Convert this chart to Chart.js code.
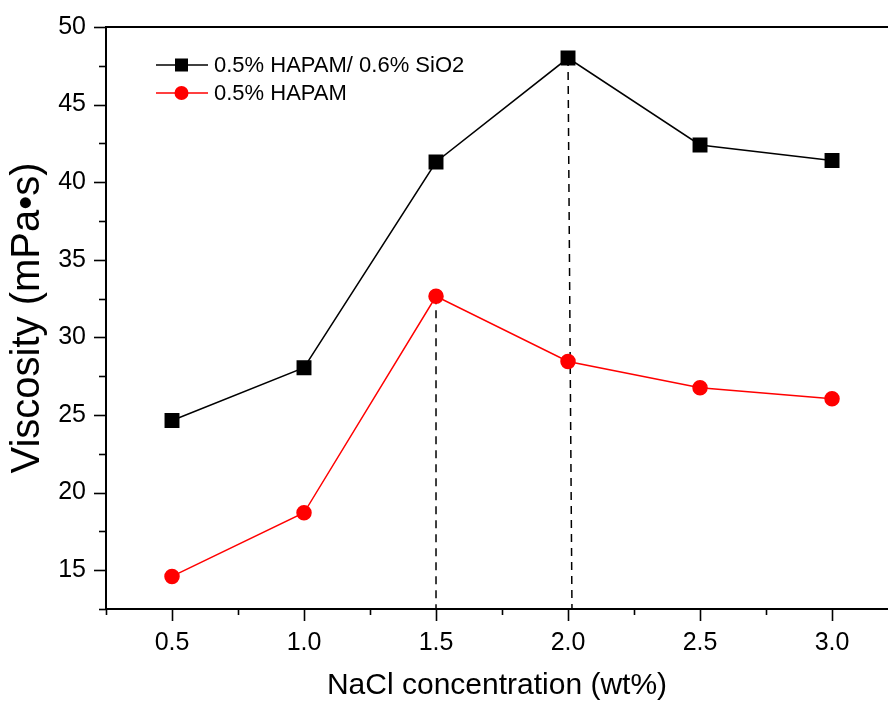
<!DOCTYPE html>
<html>
<head>
<meta charset="utf-8">
<script src="https://cdn.jsdelivr.net/npm/chart.js@4.4.1/dist/chart.umd.min.js"></script>
<style>
  html, body { margin: 0; padding: 0; background: #fff; overflow: hidden; }
  canvas { display: block; }
</style>
</head>
<body>
<canvas id="viscChart" width="888" height="704"></canvas>
<script>
// NaCl concentration (wt%)
const nacl = [0.5, 1.0, 1.5, 2.0, 2.5, 3.0];
// Viscosity (mPa·s)
const hapamSio2 = [24.65, 28.05, 41.3, 48.0, 42.4, 41.4];
const hapam = [14.6, 18.7, 32.65, 28.45, 26.75, 26.05];
// dashed drop lines from the peaks to the x axis
const dropA = [{ x: 1.5, y: 32.65 }, { x: 1.5, y: 12.5 }];
const dropB = [{ x: 2.0, y: 48.0 }, { x: 2.015, y: 12.5 }];

const seriesLabels = ['0.5% HAPAM/ 0.6% SiO2', '0.5% HAPAM'];
const FONT = '"Liberation Sans", Arial, sans-serif';

const toPoints = (xs, ys) => xs.map((x, i) => ({ x: x, y: ys[i] }));

// axes box top line + outward tick marks (major / minor)
const axisDecor = {
    id: 'axisDecor',
    afterDraw(chart) {
        const { ctx, chartArea: a, scales } = chart;
        ctx.save();
        ctx.strokeStyle = '#000';
        ctx.lineWidth = 2;
        ctx.beginPath();
        ctx.moveTo(a.left - 1, a.top);
        ctx.lineTo(a.right, a.top);
        ctx.stroke();

        ctx.lineWidth = 1.6;
        scales.x.ticks.forEach(t => {
            const px = Math.round(scales.x.getPixelForValue(t.value)) + 0.5;
            const len = t.label !== '' ? 12 : 6;
            ctx.beginPath();
            ctx.moveTo(px, a.bottom);
            ctx.lineTo(px, a.bottom + len);
            ctx.stroke();
        });
        scales.y.ticks.forEach(t => {
            const py = Math.round(scales.y.getPixelForValue(t.value)) + 0.5;
            const len = t.label !== '' ? 12 : 7;
            ctx.beginPath();
            ctx.moveTo(a.left, py);
            ctx.lineTo(a.left - len, py);
            ctx.stroke();
        });
        ctx.restore();
    }
};

// legend drawn inside the plot, top-left
const innerLegend = {
    id: 'innerLegend',
    afterDraw(chart) {
        const { ctx } = chart;
        const rows = [
            { label: seriesLabels[0], color: '#000', shape: 'rect', y: 65 },
            { label: seriesLabels[1], color: '#ff0000', shape: 'circle', y: 93 }
        ];
        ctx.save();
        rows.forEach(r => {
            ctx.strokeStyle = r.color;
            ctx.fillStyle = r.color;
            ctx.lineWidth = 1.5;
            ctx.beginPath();
            ctx.moveTo(156, r.y);
            ctx.lineTo(208, r.y);
            ctx.stroke();
            if (r.shape === 'rect') {
                ctx.fillRect(175, r.y - 6.5, 13, 13);
            } else {
                ctx.beginPath();
                ctx.arc(181.5, r.y, 7, 0, Math.PI * 2);
                ctx.fill();
            }
            ctx.fillStyle = '#000';
            ctx.font = '22px ' + FONT;
            ctx.textBaseline = 'middle';
            ctx.fillText(r.label, 214, r.y + 1);
        });
        ctx.restore();
    }
};

new Chart(document.getElementById('viscChart').getContext('2d'), {
    type: 'line',
    data: {
        datasets: [
            {
                label: 'dropA',
                data: dropA,
                borderColor: '#000',
                borderWidth: 1.5,
                borderDash: [8, 6],
                pointRadius: 0,
                order: 3
            },
            {
                label: 'dropB',
                data: dropB,
                borderColor: '#000',
                borderWidth: 1.5,
                borderDash: [8, 6],
                pointRadius: 0,
                order: 3
            },
            {
                label: seriesLabels[0],
                data: toPoints(nacl, hapamSio2),
                borderColor: '#000',
                backgroundColor: '#000',
                borderWidth: 1.5,
                pointStyle: 'rect',
                pointRadius: 9.5,
                order: 1
            },
            {
                label: seriesLabels[1],
                data: toPoints(nacl, hapam),
                borderColor: '#ff0000',
                backgroundColor: '#ff0000',
                borderWidth: 1.5,
                pointStyle: 'circle',
                pointRadius: 7,
                order: 2
            }
        ]
    },
    options: {
        responsive: false,
        animation: false,
        layout: { autoPadding: false, padding: { top: 27, right: 0, left: 0, bottom: 0 } },
        plugins: { legend: { display: false }, tooltip: { enabled: false } },
        elements: { line: { tension: 0 }, point: { borderWidth: 0 } },
        scales: {
            x: {
                type: 'linear',
                min: 0.25,
                max: 3.212,
                afterFit: s => { s.height = 95; s.paddingLeft = 0; s.paddingRight = 0; },
                grid: { display: false, drawTicks: false },
                border: { display: true, color: '#000', width: 2 },
                ticks: {
                    stepSize: 0.25,
                    includeBounds: false,
                    autoSkip: false,
                    maxRotation: 0,
                    padding: 19,
                    color: '#000',
                    font: { family: FONT, size: 25 },
                    callback: v => (Math.abs(v * 2 - Math.round(v * 2)) < 1e-6 ? v.toFixed(1) : '')
                },
                title: {
                    display: true,
                    text: 'NaCl concentration (wt%)',
                    color: '#000',
                    font: { family: FONT, size: 30 },
                    padding: { top: 0, bottom: 0 }
                }
            },
            y: {
                min: 12.5,
                max: 50,
                afterFit: s => { s.width = 106; s.paddingTop = 0; s.paddingBottom = 0; },
                grid: { display: false, drawTicks: false },
                border: { display: true, color: '#000', width: 2 },
                ticks: {
                    stepSize: 2.5,
                    autoSkip: false,
                    padding: 20,
                    color: '#000',
                    font: { family: FONT, size: 25 },
                    callback: v => (v % 5 === 0 && v >= 15 ? String(v) : '')
                },
                title: {
                    display: true,
                    text: 'Viscosity (mPa•s)',
                    color: '#000',
                    font: { family: FONT, size: 40 },
                    padding: { top: 4, bottom: 0 }
                }
            }
        }
    },
    plugins: [axisDecor, innerLegend]
});
</script>
</body>
</html>
